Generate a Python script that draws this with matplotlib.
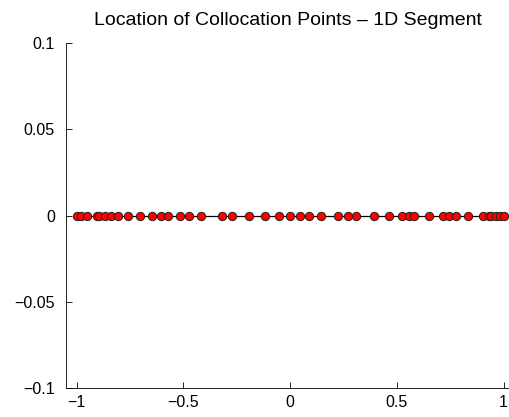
import numpy as np
import matplotlib
matplotlib.use('Agg')
import matplotlib.pyplot as plt

plt.rcParams['font.family'] = ['Liberation Sans', 'DejaVu Sans']

# collocation point locations
x_pts = [-1.0, -0.980, -0.953, -0.906, -0.894, -0.866, -0.839, -0.808, -0.761,
         -0.703, -0.647, -0.605, -0.571, -0.516, -0.475, -0.417, -0.319, -0.273,
         -0.195, -0.117, -0.053, 0.001, 0.044, 0.088, 0.145, 0.224, 0.271, 0.309,
         0.395, 0.461, 0.525, 0.559, 0.580, 0.650, 0.716, 0.744, 0.778, 0.833,
         0.903, 0.932, 0.942, 0.964, 0.985, 1.0]
y_pts = [0.0] * len(x_pts)
seg_x = [-1, 1]
seg_y = [0, 0]
x_ticks = [-1, -0.5, 0, 0.5, 1]
x_labels = ['\u22121', '\u22120.5', '0', '0.5', '1']
y_ticks = [-0.1, -0.05, 0, 0.05, 0.1]
y_labels = ['\u22120.1', '\u22120.05', '0', '0.05', '0.1']

fig = plt.figure(figsize=(5.1, 4.17), dpi=100)
ax = fig.add_axes([66/510, 1 - 388/417, 1 - 66/510, (388 - 43)/417])

ax.plot(seg_x, seg_y, color='black', lw=0.9, zorder=1)
ax.plot(x_pts, y_pts, 'o', ms=6, mfc='red', mec='#222222', mew=0.7, zorder=2)

ax.set_xlim(-1.05, 1.03)
ax.set_ylim(-0.1, 0.1)
ax.set_xticks(x_ticks)
ax.set_xticklabels(x_labels)
ax.set_yticks(y_ticks)
ax.set_yticklabels(y_labels)
ax.tick_params(direction='in', length=4, width=0.6, labelsize=11.5)
ax.tick_params(axis='y', pad=8)
ax.tick_params(axis='x', pad=5)
ax.spines['top'].set_visible(False)
ax.spines['right'].set_visible(False)
ax.spines['left'].set_linewidth(0.6)
ax.spines['bottom'].set_linewidth(0.6)
ax.set_title('Location of Collocation Points \u2013 1D Segment', fontsize=14, pad=13)

fig.savefig('out.png', dpi=100)
